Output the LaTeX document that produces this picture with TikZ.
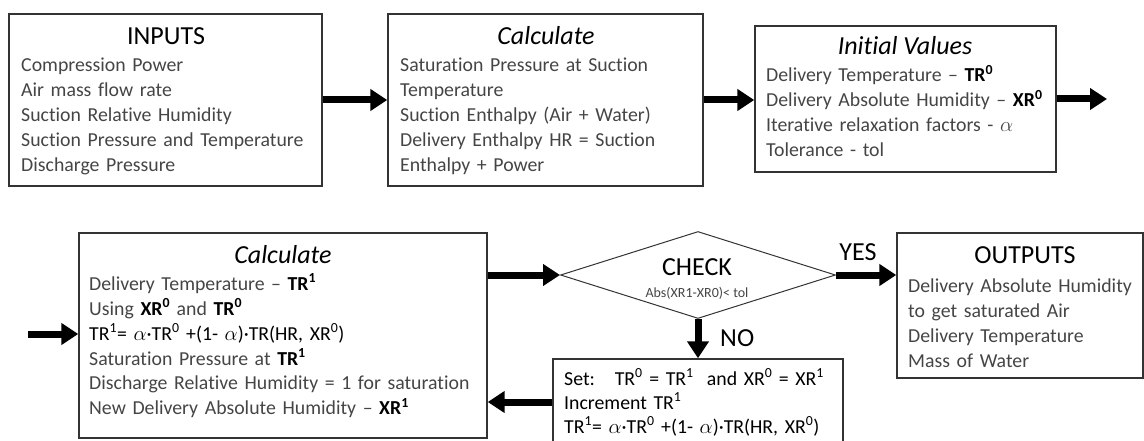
\documentclass[tikz,border=0pt]{standalone}
\usepackage{fontspec}
\setmainfont{Carlito}[Ligatures={NoCommon}]
\usetikzlibrary{shapes.geometric,arrows.meta}
\definecolor{txtgray}{HTML}{454545}
\definecolor{edge}{HTML}{333333}
\newcommand\myb[1]{\textcolor{black}{\textbf{#1}}}
\newcommand\mys[1]{\textsuperscript{#1}}
\begin{document}
\begin{tikzpicture}[x=1pt,y=-1pt,
  box/.style={draw=edge, line width=1.4pt, rectangle, inner sep=0pt},
  title/.style={font=\fontsize{26}{30}\selectfont, text=black, inner sep=0pt, anchor=base},
  ititle/.style={title, font=\fontsize{26}{30}\selectfont\itshape},
  body/.style={font=\fontsize{19.8}{25}\selectfont, text=txtgray, inner sep=0pt, anchor=base west, align=left, text width=#1},
  body/.default=420pt,
  flow/.style={line width=7pt, -{Triangle[length=17pt,width=21pt]}},
  ]
\useasboundingbox (0,0) rectangle (1144,441);

% top row
\node[box, minimum width=313pt, minimum height=172pt] (inputs) at (165.5,100) {};
\node[title] (inputsT) at (166,45) {INPUTS};
\node[body] (inputsB) at (21,72) {Compression Power\\Air mass flow rate\\Suction Relative Humidity\\Suction Pressure and Temperature\\Discharge Pressure};

\node[box, minimum width=315pt, minimum height=172pt] (calcA) at (545.5,100) {};
\node[ititle] (calcAT) at (546,45) {Calculate};
\node[body] (calcAB) at (400,72) {Saturation Pressure at Suction\\Temperature\\Suction Enthalpy (Air + Water)\\Delivery Enthalpy HR = Suction\\Enthalpy + Power};

\node[box, minimum width=301pt, minimum height=146pt] (init) at (905.5,99) {};
\node[ititle] (initT) at (905,55) {Initial Values};
\node[body] (initB) at (766,82) {Delivery Temperature – \myb{TR\mys{0}}\\Delivery Absolute Humidity – \myb{XR\mys{0}}\\Iterative relaxation factors - $\alpha$\\Tolerance - tol};
\coordinate (initOut) at (1107,99);

% bottom row
\node[box, minimum width=408pt, minimum height=205pt] (calcB) at (283,335.5) {};
\node[ititle] (calcBT) at (283,263) {Calculate};
\node[body] (calcBB) at (89,290) {Delivery Temperature – \myb{TR\mys{1}}\\Using \myb{XR\mys{0}} and \myb{TR\mys{0}}\\\textcolor{black}{TR\mys{1}= $\alpha$·TR\mys{0} +(1- $\alpha$)·TR(HR, XR\mys{0})}\\Saturation Pressure at \myb{TR\mys{1}}\\Discharge Relative Humidity = 1 for saturation\\New Delivery Absolute Humidity – \myb{XR\mys{1}}};
\coordinate (calcBIn) at (28,334);

\node[diamond, draw=edge, line width=1pt, minimum width=275pt, minimum height=87pt, inner sep=0pt] (check) at (698,275) {};
\node[title] (checkT) at (697,275) {CHECK};
\node[font=\fontsize{14}{16}\selectfont, text=txtgray, anchor=base, inner sep=0pt] (checkS) at (697,297) {Abs(XR1-XR0)< tol};

\node[box, minimum width=246pt, minimum height=145pt] (outputs) at (1020,305.5) {};
\node[title] (outT) at (1025,263) {OUTPUTS};
\node[body=230pt] (outB) at (908,292) {Delivery Absolute Humidity\\to get saturated Air\\Delivery Temperature\\Mass of Water};

\node[title] (yes) at (858,260) {YES};
\node[title, anchor=base west] (no) at (720,346) {NO};

\begin{scope}
\clip (0,0) rectangle (1144,441);
\node[box, minimum width=290pt, minimum height=86pt] (setbox) at (698,402) {};
\end{scope}
\node[body=280pt, text=black, font=\fontsize{19.8}{24}\selectfont] (setB) at (564,385) {Set:\quad TR\mys{0} = TR\mys{1}\ \ and XR\mys{0} = XR\mys{1}\\Increment TR\mys{1}\\TR\mys{1}= $\alpha$·TR\mys{0} +(1- $\alpha$)·TR(HR, XR\mys{0})};

% connectors
\draw[flow] (inputs.east) -- (calcA.west);
\draw[flow] (calcA.east) -- (calcA.east -| init.west);
\draw[flow] (init.east) -- (initOut);
\draw[flow] (calcBIn) -- (calcBIn -| calcB.west);
\draw[flow] (calcB.east |- check.west) -- (check.west);
\draw[flow] (check.east) -- (outputs.west |- check.east);
\draw[flow] (check.south) -- (setbox.north);
\draw[flow] (setbox.west) -- (setbox.west -| calcB.east);
\end{tikzpicture}
\end{document}
